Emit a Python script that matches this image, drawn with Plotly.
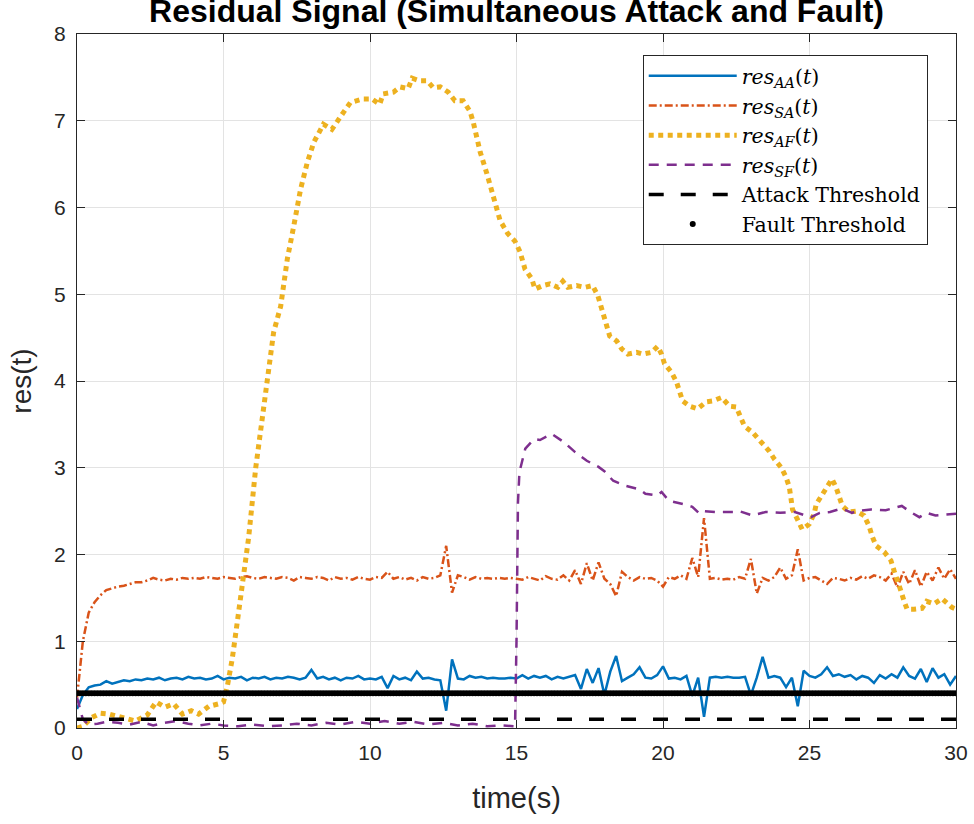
import numpy as np
import plotly.graph_objects as go

# Sampled time base (s) for the two noisy attack residuals
T_STEP = 0.2
t_grid = np.round(np.arange(151) * T_STEP, 1)

res_AA = [
    0.22, 0.38, 0.47, 0.49, 0.50, 0.54, 0.51, 0.53, 0.55, 0.54,
    0.56, 0.55, 0.57, 0.56, 0.58, 0.55, 0.57, 0.58, 0.56, 0.59,
    0.57, 0.58, 0.56, 0.57, 0.60, 0.56, 0.58, 0.57, 0.59, 0.55,
    0.58, 0.57, 0.59, 0.56, 0.58, 0.57, 0.59, 0.58, 0.56, 0.58,
    0.67, 0.57, 0.59, 0.56, 0.58, 0.55, 0.58, 0.57, 0.60, 0.56,
    0.57, 0.56, 0.59, 0.46, 0.60, 0.56, 0.58, 0.55, 0.65, 0.57,
    0.58, 0.56, 0.55, 0.20, 0.79, 0.57, 0.56, 0.60, 0.58, 0.59,
    0.57, 0.58, 0.57, 0.57, 0.58, 0.57, 0.61, 0.57, 0.60, 0.58,
    0.60, 0.56, 0.59, 0.57, 0.59, 0.61, 0.45, 0.68, 0.52, 0.69,
    0.38, 0.65, 0.83, 0.54, 0.58, 0.62, 0.70, 0.58, 0.57, 0.61,
    0.71, 0.57, 0.58, 0.56, 0.60, 0.37, 0.58, 0.13, 0.58, 0.59,
    0.58, 0.59, 0.58, 0.58, 0.59, 0.38, 0.58, 0.82, 0.58, 0.60,
    0.58, 0.47, 0.58, 0.25, 0.66, 0.60, 0.58, 0.62, 0.70, 0.60,
    0.62, 0.59, 0.61, 0.56, 0.60, 0.58, 0.52, 0.61, 0.57, 0.62,
    0.58, 0.70, 0.60, 0.57, 0.68, 0.53, 0.69, 0.58, 0.62, 0.50,
    0.60,
]

res_SA = [
    0.35, 1.00, 1.33, 1.45, 1.53, 1.59, 1.61, 1.63, 1.64, 1.66,
    1.68, 1.68, 1.70, 1.73, 1.71, 1.70, 1.72, 1.71, 1.73, 1.72,
    1.73, 1.72, 1.74, 1.73, 1.72, 1.74, 1.73, 1.72, 1.74, 1.75,
    1.73, 1.72, 1.74, 1.73, 1.72, 1.74, 1.73, 1.70, 1.74, 1.73,
    1.72, 1.74, 1.73, 1.70, 1.74, 1.72, 1.73, 1.71, 1.74, 1.72,
    1.71, 1.74, 1.73, 1.80, 1.72, 1.74, 1.71, 1.73, 1.70, 1.74,
    1.72, 1.73, 1.76, 2.10, 1.56, 1.76, 1.74, 1.71, 1.74, 1.72,
    1.73, 1.72, 1.73, 1.72, 1.73, 1.72, 1.71, 1.74, 1.72, 1.70,
    1.75, 1.72, 1.71, 1.76, 1.70, 1.82, 1.66, 1.90, 1.70, 1.91,
    1.72, 1.66, 1.52, 1.80, 1.74, 1.70, 1.74, 1.72, 1.73, 1.70,
    1.63, 1.74, 1.72, 1.76, 1.72, 1.96, 1.74, 2.42, 1.72, 1.73,
    1.71, 1.72, 1.71, 1.74, 1.72, 1.95, 1.55, 1.73, 1.70, 1.74,
    1.85, 1.72, 1.76, 2.06, 1.70, 1.73, 1.74, 1.70, 1.66, 1.73,
    1.72, 1.70, 1.73, 1.71, 1.75, 1.72, 1.76, 1.74, 1.70, 1.78,
    1.62, 1.80, 1.66, 1.82, 1.63, 1.80, 1.70, 1.85, 1.72, 1.83,
    1.72,
]

# Fault residual seen by the actuator-fault detector
t_AF = [
    0.0, 0.2, 0.5, 0.8, 1.1, 1.3, 1.6, 2.0, 2.4, 2.7,
    3.0, 3.3, 3.6, 3.9, 4.15, 4.5, 4.85, 5.0, 5.13, 5.3,
    5.47, 5.69, 5.86, 6.1, 6.4, 6.71, 6.95, 7.18, 7.4, 7.63,
    7.86, 8.08, 8.41, 8.7, 9.1, 9.33, 9.74, 10.07, 10.33, 10.45,
    10.8, 11.03, 11.3, 11.44, 11.7, 11.95, 12.16, 12.4, 12.67, 12.9,
    13.18, 13.41, 13.52, 13.76, 13.99, 14.2, 14.44, 14.7, 14.95, 15.12,
    15.29, 15.52, 15.63, 15.9, 16.14, 16.41, 16.58, 16.75, 17.05, 17.33,
    17.6, 17.78, 17.9, 18.07, 18.18, 18.42, 18.59, 18.8, 19.1, 19.31,
    19.61, 19.82, 19.95, 20.05, 20.29, 20.46, 20.57, 20.67, 20.91, 21.18,
    21.48, 21.69, 22.0, 22.27, 22.5, 22.61, 22.78, 23.05, 23.22, 23.46,
    23.63, 23.8, 24.04, 24.2, 24.31, 24.37, 24.42, 24.58, 24.75, 24.99,
    25.16, 25.23, 25.4, 25.57, 25.77, 25.9, 26.01, 26.12, 26.35, 26.59,
    26.86, 27.03, 27.14, 27.27, 27.55, 27.78, 27.89, 27.99, 28.12, 28.23,
    28.33, 28.57, 28.84, 29.0, 29.25, 29.52, 29.86, 30.0,
]
res_AF = [
    0.00, 0.02, 0.12, 0.17, 0.16, 0.14, 0.12, 0.08, 0.15, 0.30,
    0.24, 0.28, 0.16, 0.20, 0.16, 0.25, 0.28, 0.30, 0.48, 0.80,
    1.22, 1.75, 2.20, 3.00, 3.80, 4.56, 4.86, 5.41, 5.79, 6.21,
    6.52, 6.75, 6.96, 6.90, 7.10, 7.21, 7.25, 7.25, 7.19, 7.31,
    7.33, 7.39, 7.37, 7.49, 7.46, 7.46, 7.38, 7.39, 7.33, 7.23,
    7.23, 7.11, 6.99, 6.64, 6.39, 6.16, 5.85, 5.70, 5.61, 5.49,
    5.29, 5.18, 5.06, 5.10, 5.12, 5.08, 5.15, 5.08, 5.10, 5.08,
    5.10, 4.98, 4.85, 4.63, 4.52, 4.46, 4.37, 4.31, 4.33, 4.31,
    4.33, 4.40, 4.31, 4.20, 4.10, 3.99, 3.89, 3.77, 3.71, 3.68,
    3.76, 3.77, 3.81, 3.71, 3.70, 3.60, 3.48, 3.41, 3.35, 3.25,
    3.19, 3.10, 3.00, 2.89, 2.78, 2.64, 2.52, 2.41, 2.29, 2.35,
    2.47, 2.58, 2.67, 2.78, 2.87, 2.78, 2.66, 2.56, 2.49, 2.50,
    2.45, 2.33, 2.21, 2.10, 2.03, 1.93, 1.81, 1.69, 1.58, 1.46,
    1.37, 1.37, 1.38, 1.46, 1.43, 1.49, 1.39, 1.37,
]

# Fault residual seen by the sensor-fault detector
t_SF = [
    0.0, 0.2, 0.4, 0.7, 1.0, 1.4, 1.8, 2.2, 2.6, 3.0,
    3.4, 3.8, 4.2, 4.6, 5.0, 5.5, 6.0, 6.5, 7.0, 7.5,
    8.0, 8.5, 9.0, 9.5, 10.0, 10.5, 11.0, 11.5, 12.0, 12.5,
    13.0, 13.5, 14.0, 14.5, 14.95, 15.0, 15.05, 15.1, 15.3, 15.6,
    15.8, 16.2, 16.6, 17.0, 17.4, 17.8, 18.0, 18.3, 18.75, 19.2,
    19.4, 19.8, 19.95, 20.2, 20.7, 21.0, 21.25, 21.4, 21.8, 22.4,
    22.6, 23.05, 23.5, 24.0, 24.5, 24.75, 25.05, 25.35, 25.7, 26.1,
    26.45, 26.6, 27.1, 27.6, 28.15, 28.4, 28.75, 29.0, 29.3, 29.65,
    30.0,
]
res_SF = [
    0.35, 0.10, 0.04, 0.05, 0.07, 0.06, 0.04, 0.07, 0.03, 0.06,
    0.08, 0.05, 0.03, 0.05, 0.03, 0.02, 0.04, 0.02, 0.03, 0.05,
    0.03, 0.06, 0.04, 0.07, 0.05, 0.08, 0.05, 0.07, 0.04, 0.06,
    0.03, 0.05, 0.02, 0.03, 0.02, 1.00, 2.60, 2.95, 3.22, 3.33,
    3.32, 3.39, 3.30, 3.18, 3.08, 3.01, 2.96, 2.85, 2.79, 2.75,
    2.70, 2.68, 2.72, 2.62, 2.58, 2.55, 2.47, 2.50, 2.49, 2.49,
    2.50, 2.45, 2.49, 2.48, 2.49, 2.46, 2.43, 2.48, 2.49, 2.53,
    2.48, 2.50, 2.52, 2.51, 2.56, 2.50, 2.43, 2.48, 2.45, 2.46,
    2.47,
]

ATTACK_THRESHOLD = 0.1
FAULT_THRESHOLD = 0.4
t_thr = np.linspace(0, 30, 301)

BLUE = "#0072BD"
ORANGE = "#D95319"
YELLOW = "#EDB120"
PURPLE = "#7E2F8E"

SERIF = "DejaVu Serif"
SANS = "Liberation Sans"

fig = go.Figure()
fig.add_trace(go.Scatter(
    x=t_grid, y=res_AA, mode="lines",
    name="<i>res</i><sub><i>AA</i></sub>(<i>t</i>)",
    line=dict(color=BLUE, width=2.5),
))
fig.add_trace(go.Scatter(
    x=t_grid, y=res_SA, mode="lines",
    name="<i>res</i><sub><i>SA</i></sub>(<i>t</i>)",
    line=dict(color=ORANGE, width=2.5, dash="8px,3px,2px,3px"),
))
fig.add_trace(go.Scatter(
    x=t_AF, y=res_AF, mode="lines",
    name="<i>res</i><sub><i>AF</i></sub>(<i>t</i>)",
    line=dict(color=YELLOW, width=5, dash="5px,4.5px"),
))
fig.add_trace(go.Scatter(
    x=t_SF, y=res_SF, mode="lines",
    name="<i>res</i><sub><i>SF</i></sub>(<i>t</i>)",
    line=dict(color=PURPLE, width=2.5, dash="10px,8px"),
))
fig.add_trace(go.Scatter(
    x=t_thr, y=[ATTACK_THRESHOLD] * len(t_thr), mode="lines",
    name="Attack Threshold",
    line=dict(color="black", width=3.5, dash="15px,17px"),
))
fig.add_trace(go.Scatter(
    x=t_thr, y=[FAULT_THRESHOLD] * len(t_thr), mode="markers",
    name="Fault Threshold",
    marker=dict(color="black", size=6, line=dict(width=0)),
))

axis_common = dict(
    showgrid=True, gridcolor="#e3e3e3", gridwidth=1,
    showline=True, linecolor="#262626", linewidth=1, mirror="ticks",
    ticks="inside", ticklen=8, tickcolor="#262626", tickwidth=1,
    zeroline=False, automargin=False, ticklabelstandoff=6,
    tickfont=dict(family=SANS, size=21, color="#262626"),
)

fig.update_layout(
    width=974, height=824,
    margin=dict(l=77, r=18, t=34, b=96),
    paper_bgcolor="white", plot_bgcolor="white",
    title=dict(
        text="<b>Residual Signal (Simultaneous Attack and Fault)</b>",
        font=dict(family=SANS, size=32, color="black"),
        x=0.5, xref="paper", xanchor="center",
        y=0.9867, yref="container", yanchor="middle",
    ),
    xaxis=dict(
        range=[0, 30], tickvals=[0, 5, 10, 15, 20, 25, 30],
        title=dict(text="time(s)", font=dict(family=SANS, size=29, color="#262626"), standoff=24),
        **axis_common,
    ),
    yaxis=dict(
        range=[0, 8], tickvals=list(range(0, 9)),
        title=dict(text="res(t)", font=dict(family=SANS, size=28, color="#262626"), standoff=14),
        **axis_common,
    ),
    legend=dict(
        x=0.6436, y=0.9697, xanchor="left", yanchor="top",
        bgcolor="white", bordercolor="#262626", borderwidth=1,
        font=dict(family=SERIF, size=20.5, color="black"),
        itemwidth=88, tracegroupgap=0,
    ),
    showlegend=True,
)

fig.write_html("out.html")
